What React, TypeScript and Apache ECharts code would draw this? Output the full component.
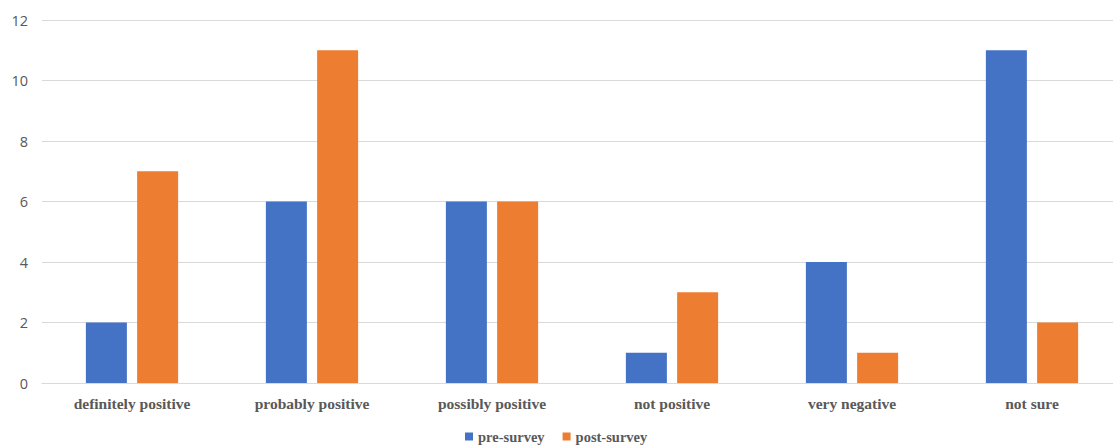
import React, { useEffect, useRef } from "react";
import * as echarts from "echarts";

const categories = [
  "definitely positive",
  "probably positive",
  "possibly positive",
  "not positive",
  "very negative",
  "not sure",
];
const preSurvey = [2, 6, 6, 1, 4, 11];
const postSurvey = [7, 11, 6, 3, 1, 2];
const yTicks = { min: 0, max: 12, interval: 2 };

export default function App() {
  const ref = useRef<HTMLDivElement>(null);
  useEffect(() => {
    if (!ref.current) return;
    const chart = echarts.init(ref.current, undefined, { renderer: "svg" });
    const serif = "'Liberation Serif', 'Times New Roman', serif";
    chart.setOption({
      animation: false,
      backgroundColor: "#ffffff",
      grid: { left: 42, right: 0, top: 20, bottom: 64, containLabel: false },
      legend: {
        top: 424,
        left: 460,
        itemWidth: 8,
        itemHeight: 8,
        itemGap: 18,
        icon: "rect",
        textStyle: { fontFamily: serif, fontWeight: "bold", fontSize: 14.5, color: "#595959" },
        data: ["pre-survey", "post-survey"],
      },
      xAxis: {
        type: "category",
        data: categories,
        axisTick: { show: false },
        axisLine: { show: true, lineStyle: { color: "#d9d9d9", width: 1 } },
        axisLabel: {
          margin: 12,
          fontFamily: serif,
          fontWeight: "bold",
          fontSize: 15.5,
          color: "#595959",
        },
      },
      yAxis: {
        type: "value",
        min: yTicks.min,
        max: yTicks.max,
        interval: yTicks.interval,
        axisLine: { show: false },
        axisTick: { show: false },
        splitLine: { lineStyle: { color: "#d9d9d9", width: 1 } },
        axisLabel: {
          margin: 14,
          fontFamily: "'Open Sans', 'DejaVu Sans', sans-serif",
          fontSize: 14.5,
          color: "#595959",
        },
      },
      series: [
        {
          name: "pre-survey",
          type: "bar",
          data: preSurvey,
          barWidth: 41,
          barGap: "25%",
          itemStyle: { color: "#4472C4" },
        },
        {
          name: "post-survey",
          type: "bar",
          data: postSurvey,
          barWidth: 41,
          barGap: "25%",
          itemStyle: { color: "#ED7D31" },
        },
      ],
    });
    return () => chart.dispose();
  }, []);
  return (
    <div
      style={{ position: "absolute", left: 0, top: 0, width: 1113, height: 447, overflow: "hidden" }}
    >
      <div ref={ref} style={{ width: 1122, height: 447 }} />
    </div>
  );
}
